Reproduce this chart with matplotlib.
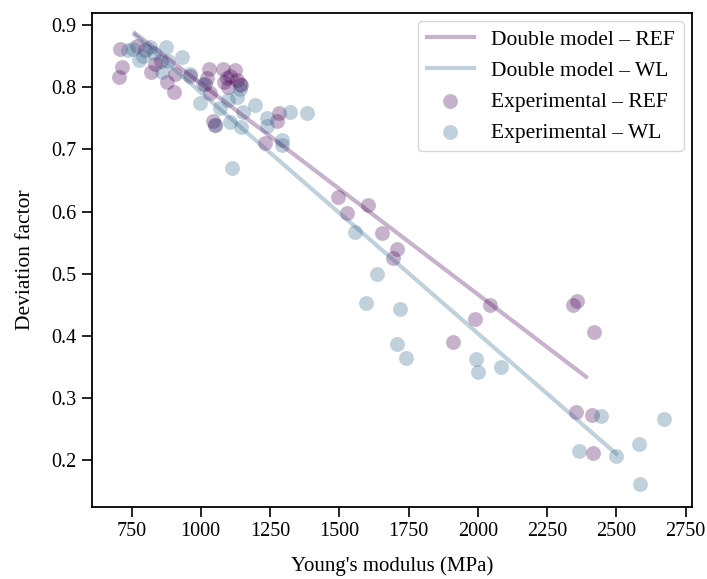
import matplotlib
matplotlib.use("Agg")
import matplotlib.pyplot as plt

plt.rcParams['font.family'] = ['Liberation Serif', 'DejaVu Serif']
plt.rcParams['mathtext.fontset'] = 'stix'

# experimental points - REF
ref_E = [708, 714, 706, 768, 800, 822, 834, 855, 878, 902, 906, 960,
         1015, 1021, 1030, 1035, 1045, 1050, 1081, 1085, 1095, 1100, 1105,
         1123, 1130, 1140, 1147, 1231, 1274, 1283,
         1494, 1529, 1605, 1655, 1707, 1695, 1910, 1990, 2044,
         2345, 2360, 2418, 2355, 2412, 2415]
ref_dev = [0.862, 0.832, 0.816, 0.866, 0.860, 0.825, 0.838, 0.843, 0.808, 0.792, 0.822, 0.818,
           0.806, 0.815, 0.829, 0.790, 0.745, 0.740, 0.829, 0.808, 0.815, 0.800, 0.818,
           0.828, 0.812, 0.806, 0.803, 0.710, 0.745, 0.758,
           0.623, 0.598, 0.611, 0.566, 0.540, 0.526, 0.390, 0.427, 0.450,
           0.450, 0.456, 0.406, 0.278, 0.273, 0.211]

# experimental points - WL
wl_E = [738, 756, 777, 790, 816, 830, 860, 876, 880, 934, 961, 997,
        1009, 1051, 1069, 1099, 1105, 1113, 1129, 1141, 1147, 1153, 1195,
        1238, 1240, 1292, 1292, 1322, 1384,
        1557, 1596, 1637, 1707, 1719, 1740, 1993, 2002, 2084,
        2366, 2444, 2499, 2583, 2585, 2672]
wl_dev = [0.860, 0.862, 0.844, 0.850, 0.865, 0.855, 0.825, 0.865, 0.843, 0.848, 0.822, 0.774,
          0.806, 0.740, 0.766, 0.779, 0.744, 0.670, 0.784, 0.798, 0.736, 0.760, 0.772,
          0.750, 0.738, 0.715, 0.707, 0.760, 0.759,
          0.567, 0.452, 0.499, 0.386, 0.443, 0.364, 0.362, 0.342, 0.349,
          0.215, 0.271, 0.207, 0.226, 0.161, 0.266]

# double model lines
ref_model_E = [762, 2391]
ref_model_dev = [0.887, 0.334]
wl_model_E = [762, 2500]
wl_model_dev = [0.884, 0.210]

c_ref = '#440154'
c_wl = '#31688e'

fig = plt.figure(figsize=(7.07, 5.79), dpi=100)
ax = fig.add_axes([0.130, 0.125, 0.849, 0.853])

ax.plot(ref_model_E, ref_model_dev, color=c_ref, alpha=0.3, lw=3, label='Double model – REF')
ax.plot(wl_model_E, wl_model_dev, color=c_wl, alpha=0.3, lw=3, label='Double model – WL')
ax.scatter(ref_E, ref_dev, s=115, color=c_ref, alpha=0.3, linewidths=0, label='Experimental – REF')
ax.scatter(wl_E, wl_dev, s=115, color=c_wl, alpha=0.3, linewidths=0, label='Experimental – WL')

ax.set_xlim(607, 2774)
ax.set_ylim(0.125, 0.92)
ax.set_xticks([750, 1000, 1250, 1500, 1750, 2000, 2250, 2500, 2750])
ax.set_yticks([0.2, 0.3, 0.4, 0.5, 0.6, 0.7, 0.8, 0.9])

ax.set_xlabel("Young's modulus (MPa)", fontsize=15, labelpad=11)
ax.set_ylabel("Deviation factor", fontsize=15.5, labelpad=12)
ax.tick_params(labelsize=14.5, length=7, width=1.2, pad=4)
for s in ax.spines.values():
    s.set_linewidth(1.3)

ax.legend(loc='upper right', fontsize=15.5, handlelength=2.2, borderaxespad=0.4)

fig.savefig('out.png', dpi=100)
